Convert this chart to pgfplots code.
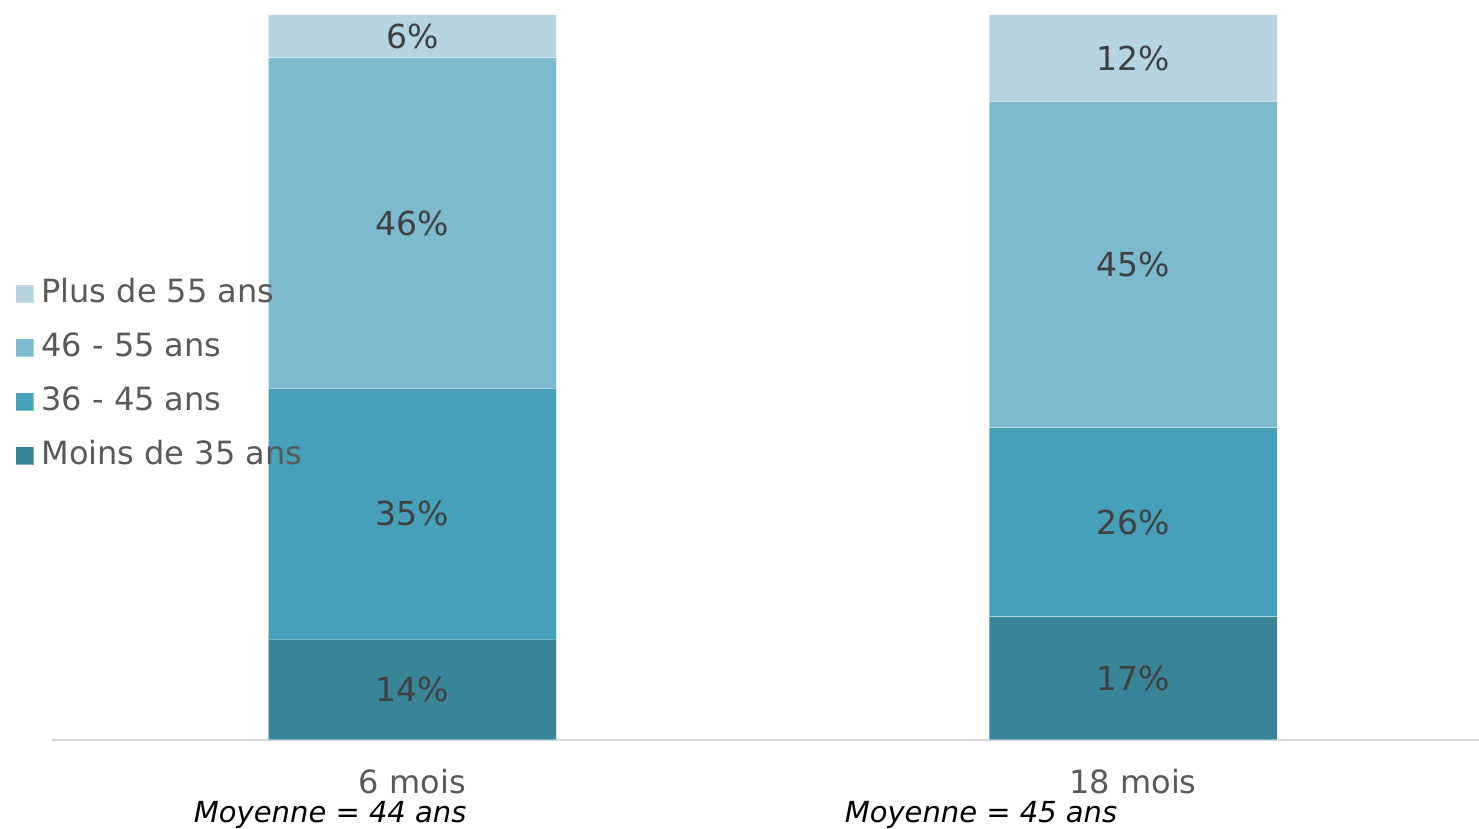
\documentclass[border=0pt]{standalone}
\usepackage{fontspec}
\setmainfont{DejaVu Sans}
\usepackage{pgfplots}
\usepackage{pgfplotstable}
\pgfplotsset{compat=1.18}
\definecolor{cA}{HTML}{388498}
\definecolor{cB}{HTML}{46A0BA}
\definecolor{cC}{HTML}{7DB9CF}
\definecolor{cD}{HTML}{B6D5E0}
\definecolor{txt}{HTML}{595959}
\definecolor{lab}{HTML}{404040}
\definecolor{axl}{HTML}{D9D9D9}
\pgfplotstableread{
x a b c d
0 13.9 34.6 45.6 5.9
1 17.0 26.1 45.0 11.9
}\bars
\pgfplotstableread{
x y l
0 6.95 14
0 31.2 35
0 71.3 46
0 97.05 6
1 8.5 17
1 30.05 26
1 65.6 45
1 94.05 12
}\labs
\begin{document}
\begin{tikzpicture}
\useasboundingbox (0,0) rectangle (739.5pt,414.5pt);
\begin{axis}[
  at={(26pt,44.5pt)}, anchor=south west,
  scale only axis, width=713.5pt, height=362.5pt,
  xmin=-0.5, xmax=1.48, ymin=0, ymax=100,
  ybar stacked, bar width=144pt,
  axis x line*=bottom, axis y line=none,
  x axis line style={draw=axl, line width=1pt, -},
  xtick={0,1}, xticklabels={6 mois, 18 mois},
  major tick length=0pt,
  xticklabel style={anchor=base, yshift=-27pt, font=\fontsize{16}{19}\selectfont, text=txt},
  clip=false,
  reverse legend,
  legend cell align=left,
  legend image code/.code={\fill[#1] (0pt,-4.5pt) rectangle (9pt,4.5pt);},
  legend style={draw=none, fill=none, inner sep=0pt, at={(-0.0259,0.504)}, anchor=west,
    nodes={inner sep=0pt, text height=12pt, text depth=3pt, font=\fontsize{16}{19}\selectfont, text=txt},
    row sep=12pt, /tikz/every odd column/.append style={column sep=3.5pt}},
]
\addplot[fill=cA, draw=white, draw opacity=0.35, line width=0.5pt] table[x=x,y=a]{\bars};
\addlegendentry{Moins de 35 ans}
\addplot[fill=cB, draw=white, draw opacity=0.35, line width=0.5pt] table[x=x,y=b]{\bars};
\addlegendentry{36 - 45 ans}
\addplot[fill=cC, draw=white, draw opacity=0.35, line width=0.5pt] table[x=x,y=c]{\bars};
\addlegendentry{46 - 55 ans}
\addplot[fill=cD, draw=white, draw opacity=0.35, line width=0.5pt] table[x=x,y=d]{\bars};
\addlegendentry{Plus de 55 ans}
\node[anchor=base, font=\fontsize{14.5}{17}\selectfont\itshape, text=black] at (axis cs:-0.114,-11.4) {Moyenne = 44 ans};
\node[anchor=base, font=\fontsize{14.5}{17}\selectfont\itshape, text=black] at (axis cs:0.789,-11.4) {Moyenne = 45 ans};
\end{axis}
\begin{axis}[
  at={(26pt,44.5pt)}, anchor=south west,
  scale only axis, width=713.5pt, height=362.5pt,
  xmin=-0.5, xmax=1.48, ymin=0, ymax=100,
  axis lines=none, clip=false,
]
\addplot[draw=none, mark=none, point meta=explicit symbolic,
  nodes near coords={\pgfplotspointmeta\%},
  every node near coord/.append style={anchor=center, inner sep=0pt, font=\fontsize{16.5}{19}\selectfont, text=lab}]
  table[x=x,y=y,meta=l]{\labs};
\end{axis}
\end{tikzpicture}
\end{document}
